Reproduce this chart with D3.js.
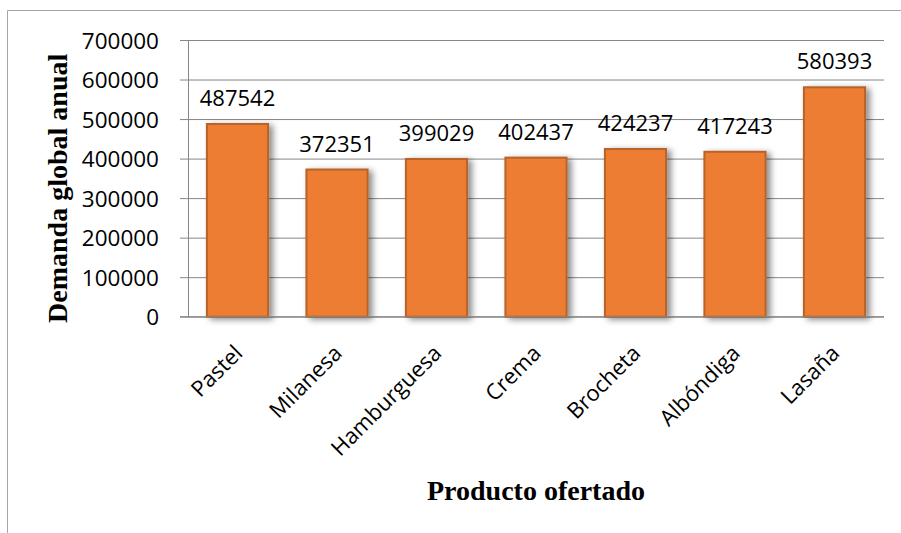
<!DOCTYPE html>
<html>
<head>
<meta charset="utf-8">
<script src="https://cdn.jsdelivr.net/npm/d3@7"></script>
<style>
  html, body { margin: 0; padding: 0; background: #fff; }
  svg { display: block; }
</style>
</head>
<body>
<svg id="chart" width="901" height="533"></svg>
<script>
const categories = ["Pastel", "Milanesa", "Hamburguesa", "Crema", "Brocheta", "Albóndiga", "Lasaña"];
const values = [487542, 372351, 399029, 402437, 424237, 417243, 580393];
const yTicks = [0, 100000, 200000, 300000, 400000, 500000, 600000, 700000];
const yTitle = "Demanda global anual";
const xTitle = "Producto ofertado";

const svg = d3.select("#chart");
const W = 901, H = 533;
const m = { left: 188, right: 884, top: 40, bottom: 316.7 };
const labelFont = "'Open Sans', 'DejaVu Sans', sans-serif";
const titleFont = "'Liberation Serif', 'Times New Roman', serif";

// outer chart border (partial, as in the reference crop)
svg.append("line").attr("x1", 7.5).attr("x2", W).attr("y1", 10.5).attr("y2", 10.5)
  .attr("stroke", "#a6a6a6").attr("stroke-width", 1);
svg.append("line").attr("x1", 7.5).attr("x2", 7.5).attr("y1", 10.5).attr("y2", H)
  .attr("stroke", "#a6a6a6").attr("stroke-width", 1);

const defs = svg.append("defs");
const f = defs.append("filter").attr("id", "shadow")
  .attr("x", "-30%").attr("y", "-30%").attr("width", "160%").attr("height", "160%");
f.append("feDropShadow").attr("dx", 4).attr("dy", 2).attr("stdDeviation", 3)
  .attr("flood-color", "#000").attr("flood-opacity", 0.45);

const x = d3.scaleBand().domain(categories).range([m.left, m.right]).paddingInner(0.385).paddingOuter(0.19);
const y = d3.scaleLinear().domain([0, 700000]).range([m.bottom, m.top]);

// gridlines + y axis
const yAxis = d3.axisLeft(y).tickValues(yTicks).tickFormat(d3.format("d"))
  .tickSize(-(m.right - m.left)).tickSizeOuter(0).tickPadding(20);
const gy = svg.append("g").attr("transform", `translate(${m.left},0)`).call(yAxis);
gy.select(".domain").attr("stroke", "#868686");
gy.selectAll(".tick line").attr("stroke", "#868686").attr("x1", -8);
gy.selectAll(".tick text").attr("font-family", labelFont).attr("font-size", 22.5)
  .attr("fill", "#000").attr("x", -29).attr("dy", "0.36em");

// bars
svg.append("g").selectAll("rect").data(values).join("rect")
  .attr("x", (d, i) => x(categories[i]))
  .attr("y", d => y(d))
  .attr("width", x.bandwidth())
  .attr("height", d => y(0) - y(d))
  .attr("fill", "#ED7D31")
  .attr("stroke", "#B7632A")
  .attr("stroke-width", 2)
  .attr("filter", "url(#shadow)");

// x axis line
svg.append("line").attr("x1", m.left - 8).attr("x2", m.right)
  .attr("y1", y(0)).attr("y2", y(0)).attr("stroke", "#868686");

// value labels
svg.append("g").selectAll("text").data(values).join("text")
  .attr("x", (d, i) => x(categories[i]) + x.bandwidth() / 2)
  .attr("y", d => y(d) - 18)
  .attr("text-anchor", "middle")
  .attr("font-family", labelFont).attr("font-size", 22).attr("fill", "#000")
  .text(d => d);

// category labels rotated
svg.append("g").selectAll("text").data(categories).join("text")
  .attr("transform", d => `translate(${x(d) + x.bandwidth() / 2 - 4.5},${y(0) + 27}) rotate(-45)`)
  .attr("text-anchor", "end")
  .attr("dy", "0.7em")
  .attr("font-family", labelFont).attr("font-size", 22).attr("fill", "#000")
  .text(d => d);

// axis titles
svg.append("text")
  .attr("transform", `translate(67,${(m.top + m.bottom) / 2 + 10}) rotate(-90)`)
  .attr("text-anchor", "middle")
  .attr("font-family", titleFont).attr("font-weight", "bold").attr("font-size", 28)
  .attr("fill", "#000").text(yTitle);

svg.append("text")
  .attr("x", (m.left + m.right) / 2).attr("y", 500)
  .attr("text-anchor", "middle")
  .attr("font-family", titleFont).attr("font-weight", "bold").attr("font-size", 28)
  .attr("fill", "#000").text(xTitle);
</script>
</body>
</html>
